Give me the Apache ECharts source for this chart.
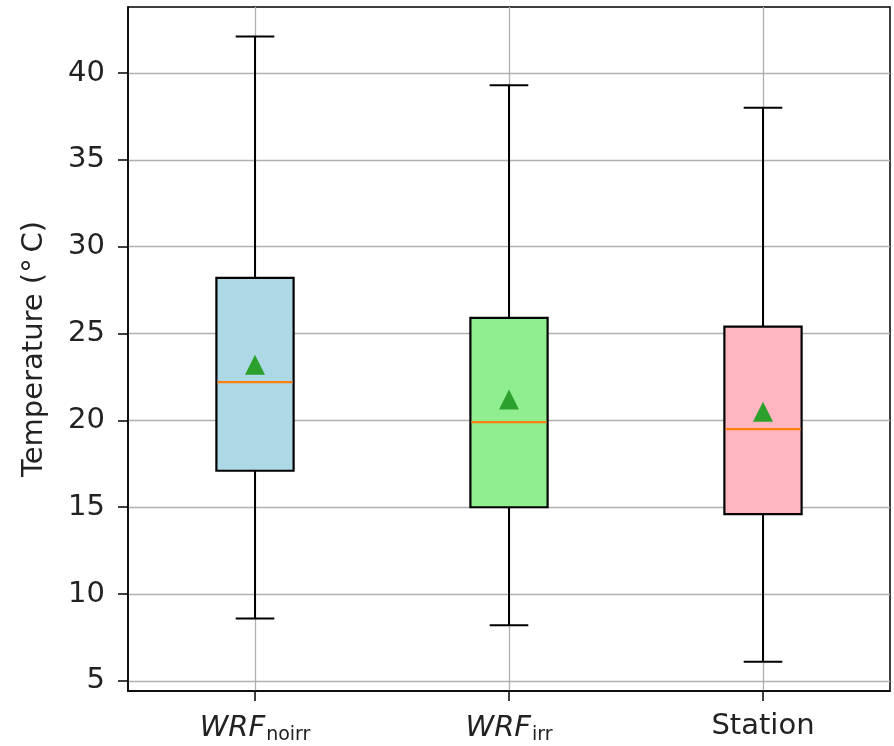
<!DOCTYPE html>
<html>
<head>
<meta charset="utf-8">
<script src="https://cdn.jsdelivr.net/npm/echarts@6/dist/echarts.min.js"></script>
<style>
html, body { margin: 0; padding: 0; background: #fff; }
#chart { width: 894px; height: 746px; }
</style>
</head>
<body>
<div id="chart"></div>
<script>
// box statistics
var categories = ['noirr', 'irr', 'Station'];
var whiskerLow = [8.6, 8.2, 6.1];
var q1 = [17.1, 15.0, 14.6];
var median = [22.2, 19.9, 19.5];
var q3 = [28.2, 25.9, 25.4];
var whiskerHigh = [42.1, 39.3, 38.0];
var means = [23.2, 21.2, 20.5];
var yTicks = [5, 10, 15, 20, 25, 30, 35, 40];
var boxColors = ['#add8e6', '#90ee90', '#ffb6c1'];

var boxData = [];
for (var i = 0; i < categories.length; i++) {
	boxData.push([i, whiskerLow[i], q1[i], median[i], q3[i], whiskerHigh[i]]);
}
var meanData = [];
for (var i = 0; i < categories.length; i++) {
	meanData.push([i, means[i]]);
}

function renderBox(params, api) {
	var idx = api.value(0);
	var band = api.size([1, 0])[0];
	var half = band * 0.152;
	var cap = band * 0.076;
	var lo = api.coord([idx, api.value(1)]);
	var b1 = api.coord([idx, api.value(2)]);
	var md = api.coord([idx, api.value(3)]);
	var b3 = api.coord([idx, api.value(4)]);
	var hi = api.coord([idx, api.value(5)]);
	var x = lo[0];
	var lineStyle = { stroke: '#000', lineWidth: 2 };
	return {
		type: 'group',
		children: [
			{ type: 'line', shape: { x1: x, y1: lo[1], x2: x, y2: b1[1] }, style: lineStyle },
			{ type: 'line', shape: { x1: x, y1: b3[1], x2: x, y2: hi[1] }, style: lineStyle },
			{ type: 'line', shape: { x1: x - cap, y1: lo[1], x2: x + cap, y2: lo[1] }, style: lineStyle },
			{ type: 'line', shape: { x1: x - cap, y1: hi[1], x2: x + cap, y2: hi[1] }, style: lineStyle },
			{ type: 'rect', shape: { x: x - half, y: b3[1], width: half * 2, height: b1[1] - b3[1] },
				style: { fill: boxColors[idx], stroke: '#000', lineWidth: 2.2 } },
			{ type: 'line', shape: { x1: x - half + 1, y1: md[1], x2: x + half - 1, y2: md[1] },
				style: { stroke: '#ff7f0e', lineWidth: 2.2 } }
		]
	};
}

var gridLines = [];
yTicks.forEach(function(v) { gridLines.push({ yAxis: v }); });
categories.forEach(function(c) { gridLines.push({ xAxis: c }); });

var chart = echarts.init(document.getElementById('chart'));
chart.setOption({
	animation: false,
	backgroundColor: '#fff',
	textStyle: { fontFamily: 'DejaVu Sans' },
	grid: { left: 128, top: 7, right: 4, bottom: 55, show: true, borderColor: '#000', borderWidth: 1.5 },
	xAxis: {
		type: 'category',
		data: categories,
		axisLine: { show: true, lineStyle: { color: '#000', width: 1.5 } },
		axisTick: { show: true, alignWithLabel: true, length: 10, lineStyle: { color: '#000', width: 1.5 } },
		splitLine: { show: false },
		axisLabel: {
			margin: 21,
			color: '#222',
			formatter: function(v) {
				if (v === 'Station') return '{n|Station}';
				return '{it|WRF}{sub|' + v + '}';
			},
			rich: {
				n: { fontSize: 29, fontFamily: 'DejaVu Sans', color: '#222' },
				it: { fontSize: 29, fontStyle: 'italic', fontFamily: 'DejaVu Sans', color: '#222' },
				sub: { fontSize: 19, fontFamily: 'DejaVu Sans', color: '#222', padding: [14, 0, 0, 1] }
			}
		}
	},
	yAxis: {
		type: 'value',
		min: 4.42,
		max: 43.8,
		name: 'Temperature (°\u2009C)',
		nameLocation: 'middle',
		nameGap: 79,
		nameTextStyle: { fontSize: 29, color: '#222', fontFamily: 'DejaVu Sans' },
		axisLine: { show: true, lineStyle: { color: '#000', width: 1.5 } },
		axisTick: { show: true, length: 10, customValues: yTicks, lineStyle: { color: '#000', width: 1.5 } },
		axisLabel: { customValues: yTicks, fontSize: 29, color: '#222', margin: 23 },
		splitLine: { show: false }
	},
	series: [
		{
			type: 'line',
			data: [],
			z: 0,
			markLine: {
				silent: true,
				z: 0,
				symbol: 'none',
				label: { show: false },
				lineStyle: { color: '#b0b0b0', width: 1.3, type: 'solid' },
				data: gridLines
			}
		},
		{
			type: 'custom',
			renderItem: renderBox,
			data: boxData,
			z: 2
		},
		{
			type: 'scatter',
			data: meanData,
			symbol: 'triangle',
			symbolSize: 20,
			itemStyle: { color: '#2ca02c', opacity: 1 },
			z: 3
		}
	]
});
</script>
</body>
</html>
